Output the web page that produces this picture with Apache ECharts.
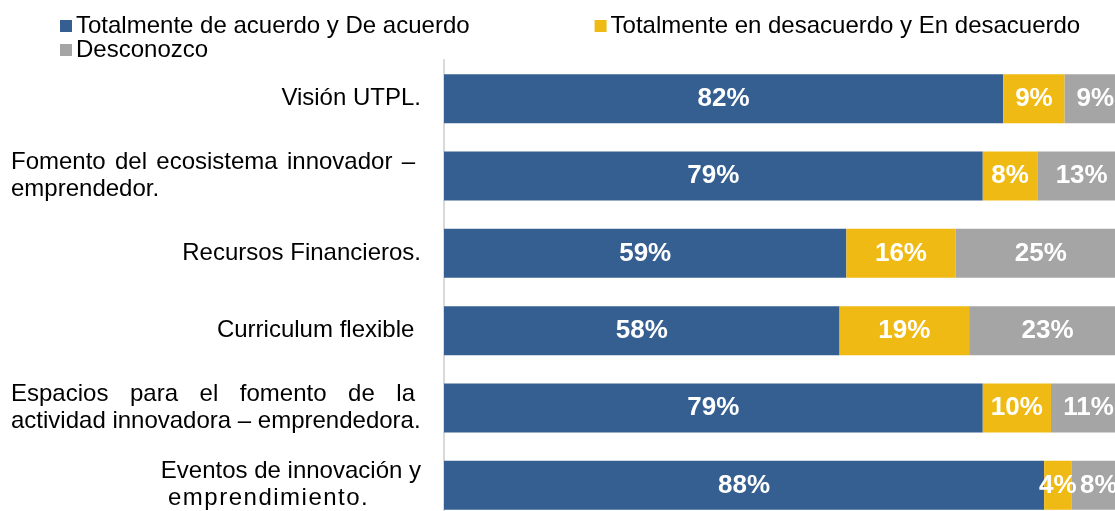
<!DOCTYPE html>
<html>
<head>
<meta charset="utf-8">
<script src="https://cdn.jsdelivr.net/npm/echarts@6/dist/echarts.min.js"></script>
<style>
    html, body { margin: 0; padding: 0; background: #fff; }
    #chart { width: 1115px; height: 511px; }
</style>
</head>
<body>
<div id="chart"></div>
<script>
// datos
const categories = [
    'Visión UTPL.',
    'Fomento del ecosistema innovador – emprendedor.',
    'Recursos Financieros.',
    'Curriculum flexible',
    'Espacios para el fomento de la actividad innovadora – emprendedora.',
    'Eventos de innovación y emprendimiento.'
];
const seriesNames = [
    'Totalmente de acuerdo y De acuerdo',
    'Totalmente en desacuerdo y En desacuerdo',
    'Desconozco'
];
const acuerdo = [82, 79, 59, 58, 79, 88];
const desacuerdo = [9, 8, 16, 19, 10, 4];
const desconozco = [9, 13, 25, 23, 11, 8];
const colors = ['#365F91', '#F0BA14', '#A5A5A5'];

const FONT = '"Liberation Sans", Arial, sans-serif';
const LABEL_SIZE = 24;
const LINE_H = 27;

// como se parte cada etiqueta en lineas (texto tipo Word: justificado / derecha / espaciado)
const labelLines = [
    [['r', 'Visión UTPL.']],
    [['j', 'Fomento del ecosistema innovador –'], ['l', 'emprendedor.']],
    [['r', 'Recursos Financieros.']],
    [['r', 'Curriculum flexible ']],
    [['j', 'Espacios para el fomento de la'], ['l', 'actividad innovadora – emprendedora.']],
    [['r', 'Eventos de innovación y'], ['s', 'emprendimiento.']]
];

let ctx = document.createElement('canvas').getContext('2d');
ctx.font = LABEL_SIZE + 'px ' + FONT;

let baseStyle = { fontSize: LABEL_SIZE, fontFamily: FONT, color: '#000', lineHeight: LINE_H };
let rich = {
    r: Object.assign({}, baseStyle, { align: 'right' }),
    l: Object.assign({}, baseStyle, { align: 'left' }),
    // letra con un poco de espaciado extra
    c: Object.assign({}, baseStyle, { align: 'left', padding: [0, 1.5, 0, 0] }),
    c0: Object.assign({}, baseStyle, { align: 'left', padding: [0, 1.5, 0, 157] })
};

let gapCount = 0;
function justify(line, width) {
    let words = line.split(' ');
    let used = words.reduce((s, w) => s + ctx.measureText(w).width, 0);
    let gap = (width - used) / (words.length - 1);
    let name = 'g' + (gapCount++);
    rich[name] = Object.assign({}, baseStyle, { align: 'left', width: gap });
    return words.map(w => '{l|' + w + '}').join('{' + name + '| }');
}

function spaced(line) {
    return line.split('').map((ch, i) => '{' + (i === 0 ? 'c0' : 'c') + '|' + ch + '}').join('');
}

let labelTexts = labelLines.map(lines => lines.map(([kind, txt]) => {
    if (kind === 'j') return justify(txt, 404);
    if (kind === 's') return spaced(txt);
    return '{' + kind + '|' + txt + '}';
}).join('\n'));

function makeSeries(name, data, color) {
    return {
        name: name,
        type: 'bar',
        stack: 'total',
        barWidth: 49,
        data: data,
        itemStyle: { color: color },
        label: {
            show: true,
            position: 'inside',
            formatter: '{c}%',
            color: '#fff',
            fontWeight: 'bold',
            fontSize: 26,
            fontFamily: FONT
        },
        emphasis: { disabled: true }
    };
}

let legendBase = {
    icon: 'rect',
    itemWidth: 12,
    itemHeight: 12,
    padding: 0,
    textStyle: { fontSize: 24, fontFamily: FONT, color: '#000', padding: [0, 0, 0, -1] },
    selectedMode: false
};

let options = {
    animation: false,
    color: colors,
    legend: [
        Object.assign({}, legendBase, { data: seriesNames.slice(0, 2), left: 60, top: 14, itemGap: 125 }),
        Object.assign({}, legendBase, { data: seriesNames.slice(2), left: 60, top: 38 })
    ],
    grid: {
        left: 444,
        right: -11,
        top: 60,
        bottom: -13,
        outerBoundsMode: 'none',
        containLabel: false
    },
    xAxis: {
        type: 'value',
        min: 0,
        max: 100,
        show: false
    },
    yAxis: {
        type: 'category',
        inverse: true,
        data: categories,
        axisTick: { show: false },
        axisLine: { lineStyle: { color: '#D9D9D9', width: 2 } },
        axisLabel: {
            interval: 0,
            margin: 23,
            width: 410,
            overflow: 'none',
            fontSize: LABEL_SIZE,
            fontFamily: FONT,
            color: '#000',
            lineHeight: LINE_H,
            formatter: (value, idx) => labelTexts[idx],
            rich: rich
        }
    },
    series: [
        makeSeries(seriesNames[0], acuerdo, colors[0]),
        makeSeries(seriesNames[1], desacuerdo, colors[1]),
        makeSeries(seriesNames[2], desconozco, colors[2])
    ]
};

let chart = echarts.init(document.getElementById('chart'));
chart.setOption(options);
</script>
</body>
</html>
